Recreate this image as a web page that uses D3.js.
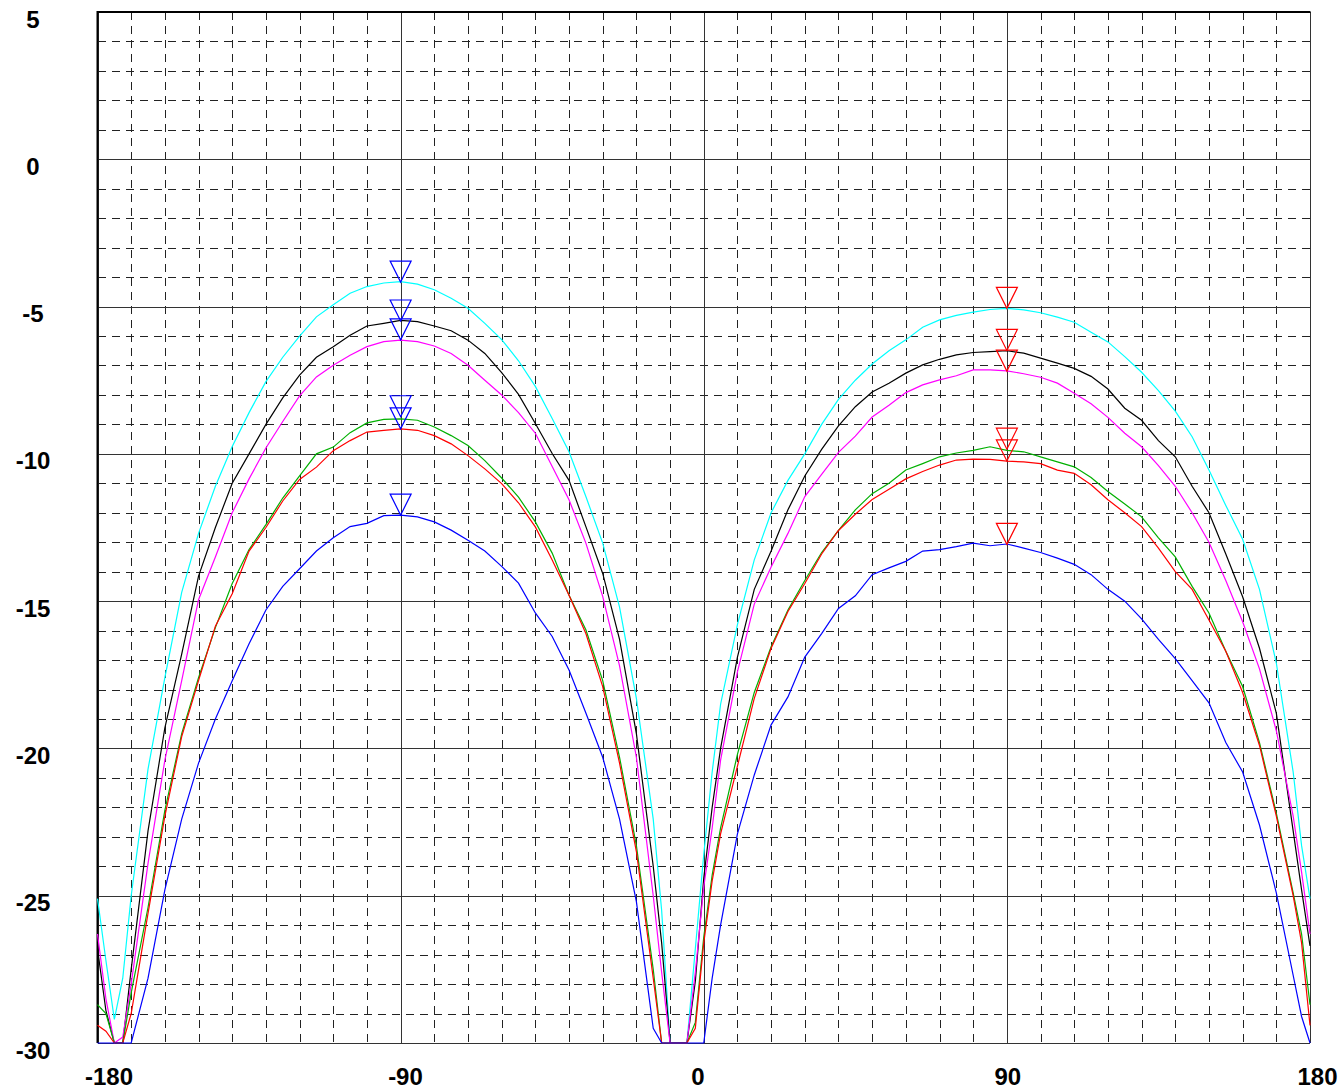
<!DOCTYPE html>
<html lang="en">
<head>
<meta charset="UTF-8">
<title>Pattern chart</title>
<script src="https://d3js.org/d3.v7.min.js"></script>
<style>
    body { margin: 0; background: #fff; }
    svg { display: block; }
    .tick text { font-family: "Liberation Sans", Arial, sans-serif; font-weight: bold; font-size: 24px; fill: #000; }
</style>
</head>
<body>
<div id="chart"></div>
<script>
// angles in degrees (extra points near the nulls)
const angles = [-180, -177.5, -175, -172.5, -170, -165, -160, -155, -150, -145, -140, -135, -130, -125, -120, -115, -110, -105, -100, -95, -90, -85, -80, -75, -70, -65, -60, -55, -50, -45, -40, -35, -30, -25, -20, -15, -12.5, -10, -7.5, -5, -2.5, 0, 2.5, 5, 10, 15, 20, 25, 30, 35, 40, 45, 50, 55, 60, 65, 70, 75, 80, 85, 90, 95, 100, 105, 110, 115, 120, 125, 130, 135, 140, 145, 150, 155, 160, 165, 170, 175, 177.5, 180];

const cyanVals = [-25.1, -27.2, -29.2, -27.8, -25.0, -20.7, -17.6, -14.7, -12.7, -11.1, -9.75, -8.6, -7.55, -6.72, -6.0, -5.35, -4.94, -4.55, -4.32, -4.2, -4.15, -4.24, -4.43, -4.72, -5.06, -5.57, -6.12, -6.84, -7.71, -8.8, -9.93, -11.45, -13.03, -15.2, -18.3, -22.4, -25.5, -30, -31, -30.3, -26.8, -23.6, -20.8, -18.5, -15.8, -13.6, -12.0, -10.9, -10.0, -9.0, -8.15, -7.5, -6.95, -6.5, -6.13, -5.7, -5.45, -5.3, -5.19, -5.1, -5.06, -5.11, -5.21, -5.36, -5.53, -5.87, -6.2, -6.7, -7.23, -7.85, -8.55, -9.42, -10.55, -11.75, -12.9, -14.6, -17.1, -20.8, -23.3, -25.1];

const blackVals = [-26.8, -28.9, -31, -30.3, -27.5, -22.8, -19.3, -16.8, -14.15, -12.5, -11.0, -10.0, -9.0, -8.1, -7.33, -6.72, -6.36, -5.97, -5.66, -5.57, -5.47, -5.51, -5.66, -5.82, -6.14, -6.59, -7.24, -7.98, -8.97, -9.99, -10.9, -12.47, -14.06, -16.3, -19.5, -24.0, -26.6, -30, -31, -31, -27.9, -24.4, -22.0, -20.0, -16.9, -14.6, -13.3, -11.9, -10.75, -9.85, -9.05, -8.4, -7.9, -7.6, -7.26, -6.98, -6.79, -6.64, -6.56, -6.53, -6.5, -6.58, -6.75, -6.92, -7.1, -7.37, -7.8, -8.45, -8.86, -9.55, -10.1, -11.1, -12.0, -13.4, -14.85, -16.6, -18.8, -22.8, -24.8, -26.7];

const magentaVals = [-26.3, -28.5, -31, -29.8, -28.0, -23.9, -20.4, -17.7, -14.95, -13.5, -12.0, -10.85, -9.8, -8.9, -8.03, -7.39, -6.99, -6.65, -6.36, -6.19, -6.14, -6.19, -6.34, -6.59, -6.99, -7.5, -8.0, -8.6, -9.3, -10.43, -11.56, -13.03, -14.84, -17.2, -20.3, -25.0, -27.6, -31, -31, -31, -27.6, -24.7, -22.7, -20.4, -17.4, -15.1, -13.84, -12.7, -11.45, -10.7, -9.95, -9.4, -8.75, -8.35, -7.92, -7.66, -7.49, -7.35, -7.15, -7.15, -7.18, -7.28, -7.4, -7.6, -7.94, -8.3, -8.76, -9.3, -9.76, -10.4, -11.1, -12.0, -13.0, -14.3, -15.7, -17.3, -19.4, -22.3, -24.2, -26.3];

const greenVals = [-28.7, -29.0, -31, -30.5, -28.3, -25.4, -22.1, -19.5, -17.6, -15.9, -14.4, -13.25, -12.4, -11.5, -10.75, -10.0, -9.77, -9.28, -8.95, -8.83, -8.81, -8.86, -9.09, -9.38, -9.72, -10.23, -10.82, -11.47, -12.31, -13.37, -14.8, -15.97, -17.7, -20.3, -23.3, -27.5, -30.5, -31, -31, -31, -29.3, -26.4, -24.3, -22.7, -20.2, -18.1, -16.55, -15.3, -14.3, -13.35, -12.6, -11.9, -11.35, -11.0, -10.55, -10.33, -10.1, -9.97, -9.88, -9.76, -9.88, -9.93, -10.1, -10.27, -10.44, -10.8, -11.28, -11.7, -12.14, -12.85, -13.5, -14.5, -15.4, -16.7, -17.9, -19.8, -22.2, -24.9, -26.3, -28.7];

const redVals = [-29.4, -29.6, -31, -31, -29.0, -25.6, -22.3, -19.6, -17.7, -15.85, -14.75, -13.3, -12.5, -11.6, -10.87, -10.45, -9.89, -9.55, -9.26, -9.2, -9.15, -9.2, -9.38, -9.66, -10.06, -10.51, -11.01, -11.66, -12.48, -13.6, -14.8, -16.1, -17.9, -20.5, -23.5, -27.8, -31, -31, -31, -31, -29.5, -26.6, -24.5, -22.9, -20.6, -18.3, -16.6, -15.35, -14.4, -13.4, -12.6, -12.05, -11.55, -11.2, -10.85, -10.6, -10.38, -10.21, -10.18, -10.19, -10.25, -10.27, -10.33, -10.55, -10.66, -11.05, -11.56, -12.0, -12.47, -13.2, -14.0, -14.6, -15.64, -16.7, -18.1, -19.9, -22.3, -25.0, -26.6, -29.4];

const blueVals = [-31, -31, -31, -31, -31, -27.8, -24.8, -22.4, -20.5, -19.0, -17.7, -16.45, -15.3, -14.5, -13.9, -13.3, -12.85, -12.47, -12.36, -12.1, -12.08, -12.14, -12.31, -12.59, -12.93, -13.3, -13.82, -14.39, -15.4, -16.2, -17.34, -18.8, -20.3, -22.4, -25.2, -29.5, -31, -31, -31, -31, -31, -30.2, -27.8, -26.0, -22.9, -20.9, -19.2, -18.25, -16.9, -16.1, -15.25, -14.82, -14.1, -13.87, -13.65, -13.3, -13.25, -13.15, -13.03, -13.12, -13.06, -13.2, -13.35, -13.54, -13.75, -14.1, -14.6, -15.0, -15.6, -16.3, -16.95, -17.7, -18.45, -19.8, -20.8, -22.6, -24.9, -27.7, -29.1, -31];

const seriesColors = ["#00ffff", "#000000", "#ff00ff", "#00b000", "#ff0000", "#0000ff"];
const allSeries = [cyanVals, blackVals, magentaVals, greenVals, redVals, blueVals];

// marker values (peak readouts at -90 and +90)
const leftMarkers = [-4.17, -5.49, -6.13, -8.74, -9.15, -12.08];
const rightMarkers = [-5.06, -6.49, -7.19, -9.84, -10.24, -13.07];

const xTicks = [-180, -90, 0, 90, 180];
const yTicks = [5, 0, -5, -10, -15, -20, -25, -30];

const W = 1341, H = 1091;
const plotLeft = 97.5, plotRight = 1310, plotTop = 12, plotBottom = 1043;

const svg = d3.select("#chart").append("svg")
    .attr("width", W)
    .attr("height", H);

const x = d3.scaleLinear().domain([-180, 180]).range([plotLeft, plotRight]);
const y = d3.scaleLinear().domain([-30, 5]).range([plotBottom, plotTop]).clamp(true);

// minor dashed grid
const grid = svg.append("g").attr("shape-rendering", "crispEdges");
grid.selectAll(".vminor")
    .data(d3.range(-170, 180, 10).filter(d => d % 90 !== 0))
    .enter().append("line")
    .attr("x1", d => Math.round(x(d)) + 0.5).attr("x2", d => Math.round(x(d)) + 0.5)
    .attr("y1", plotTop).attr("y2", plotBottom)
    .attr("stroke", "#222").attr("stroke-dasharray", "8,6");
grid.selectAll(".hminor")
    .data(d3.range(-29, 5, 1).filter(d => d % 5 !== 0))
    .enter().append("line")
    .attr("y1", d => Math.round(y(d)) + 0.5).attr("y2", d => Math.round(y(d)) + 0.5)
    .attr("x1", plotLeft).attr("x2", plotRight)
    .attr("stroke", "#222").attr("stroke-dasharray", "8,6");

// major solid grid
grid.selectAll(".vmajor")
    .data(xTicks)
    .enter().append("line")
    .attr("x1", d => Math.round(x(d)) + 0.5).attr("x2", d => Math.round(x(d)) + 0.5)
    .attr("y1", plotTop).attr("y2", plotBottom)
    .attr("stroke", "#333");
grid.selectAll(".hmajor")
    .data(yTicks)
    .enter().append("line")
    .attr("y1", d => Math.round(y(d)) + 0.5).attr("y2", d => Math.round(y(d)) + 0.5)
    .attr("x1", plotLeft).attr("x2", plotRight)
    .attr("stroke", "#333");

// heavier left and top frame
svg.append("line").attr("x1", 97.5).attr("x2", 97.5).attr("y1", plotTop - 1).attr("y2", plotBottom)
    .attr("stroke", "#000").attr("stroke-width", 2);
svg.append("line").attr("x1", plotLeft).attr("x2", plotRight + 0.5).attr("y1", plotTop).attr("y2", plotTop)
    .attr("stroke", "#000").attr("stroke-width", 2);

// curves
const line = d3.line()
    .x((d, i) => x(angles[i]))
    .y(d => y(d));

svg.selectAll(".curve")
    .data(allSeries)
    .enter().append("path")
    .attr("d", d => line(d))
    .attr("fill", "none")
    .attr("stroke", (d, i) => seriesColors[i])
    .attr("stroke-width", 1.2);

// triangle markers
function tri(px, py) {
    return `M${px - 10.5},${py - 21}L${px + 10.5},${py - 21}L${px},${py}Z`;
}
svg.selectAll(".mkL")
    .data(leftMarkers)
    .enter().append("path")
    .attr("d", d => tri(x(-90), y(d)))
    .attr("fill", "none").attr("stroke", "#0000ff").attr("stroke-width", 1.2);
svg.selectAll(".mkR")
    .data(rightMarkers)
    .enter().append("path")
    .attr("d", d => tri(x(90), y(d)))
    .attr("fill", "none").attr("stroke", "#ff0000").attr("stroke-width", 1.2);

// axes (labels only), plain hyphen for minus
const xAxis = svg.append("g")
    .attr("transform", `translate(0,${plotBottom})`)
    .call(d3.axisBottom(x).tickValues(xTicks).tickSize(0).tickFormat(d => String(d)));
xAxis.select(".domain").remove();
xAxis.selectAll("text")
    .attr("y", 42).attr("dy", null)
    .attr("x", -13)
    .attr("text-anchor", "start");

const yAxis = svg.append("g")
    .attr("transform", "translate(33,0)")
    .call(d3.axisLeft(y).tickValues(yTicks).tickSize(0).tickFormat(d => String(d)));
yAxis.select(".domain").remove();
yAxis.selectAll("text")
    .attr("x", 0).attr("dy", null)
    .attr("y", 15)
    .attr("text-anchor", "middle");
</script>
</body>
</html>
